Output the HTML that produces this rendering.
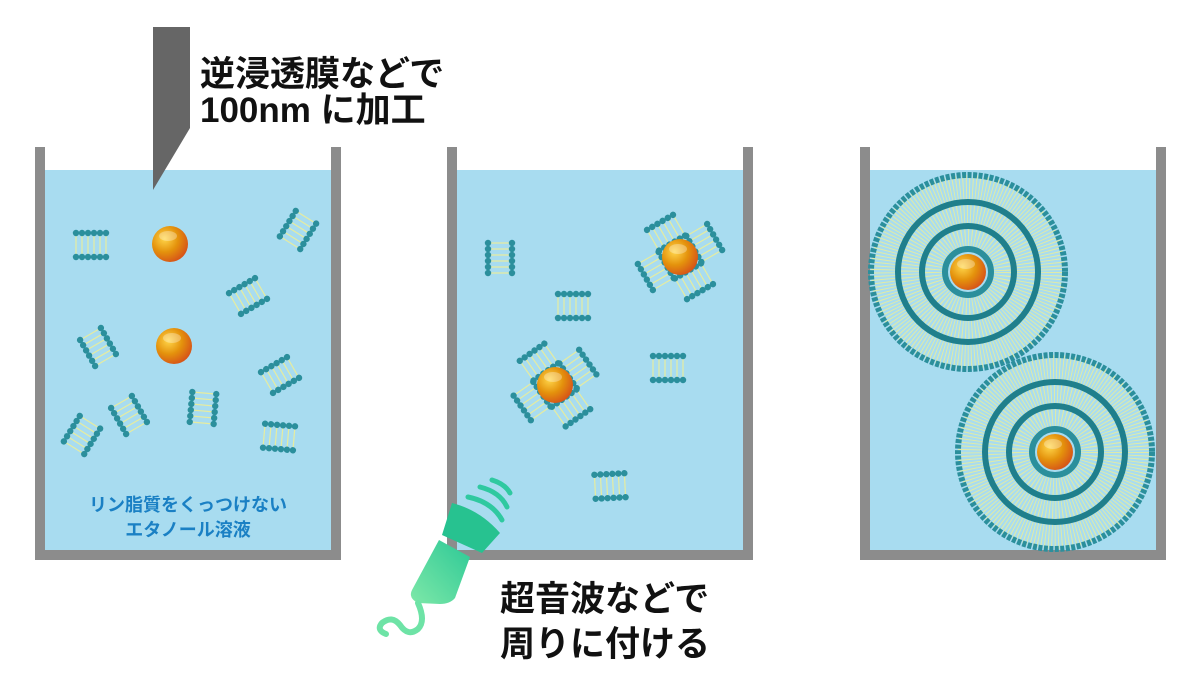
<!DOCTYPE html>
<html><head><meta charset="utf-8"><style>
html,body{margin:0;padding:0;background:#fff;width:1200px;height:675px;overflow:hidden}
svg text{font-family:"Liberation Sans","Noto Sans CJK JP",sans-serif;font-weight:bold}
</style></head><body>
<svg width="1200" height="675" viewBox="0 0 1200 675" xmlns="http://www.w3.org/2000/svg">
<defs>
<radialGradient id="sph" cx="0.35" cy="0.35" r="0.75">
<stop offset="0" stop-color="#ffd64a"/><stop offset="0.5" stop-color="#e4920c"/><stop offset="1" stop-color="#d44a1a"/>
</radialGradient>
<linearGradient id="gr" x1="0" y1="1" x2="1" y2="0">
<stop offset="0" stop-color="#7ee8a8"/><stop offset="1" stop-color="#2cc896"/>
</linearGradient>
<g id="lad">
<g stroke="#e6eca0" stroke-width="1.2">
<line x1="-15" y1="-12" x2="-15" y2="12"/><line x1="-9" y1="-12" x2="-9" y2="12"/><line x1="-3" y1="-12" x2="-3" y2="12"/><line x1="3" y1="-12" x2="3" y2="12"/><line x1="9" y1="-12" x2="9" y2="12"/><line x1="15" y1="-12" x2="15" y2="12"/>
</g>
<g fill="#2b8f9c">
<circle cx="-15" cy="-12" r="3.2"/><circle cx="-9" cy="-12" r="3.2"/><circle cx="-3" cy="-12" r="3.2"/><circle cx="3" cy="-12" r="3.2"/><circle cx="9" cy="-12" r="3.2"/><circle cx="15" cy="-12" r="3.2"/>
<circle cx="-15" cy="12" r="3.2"/><circle cx="-9" cy="12" r="3.2"/><circle cx="-3" cy="12" r="3.2"/><circle cx="3" cy="12" r="3.2"/><circle cx="9" cy="12" r="3.2"/><circle cx="15" cy="12" r="3.2"/>
</g>
</g>
<g id="ball"><circle r="18" fill="url(#sph)"/><ellipse cx="-2" cy="-8" rx="9" ry="5" fill="#fff" opacity="0.3"/></g>
<g id="cl">
<use href="#lad" transform="rotate(-100) translate(0,-28)"/>
<use href="#lad" transform="rotate(-10) translate(0,-28)"/>
<use href="#lad" transform="rotate(80) translate(0,-28)"/>
<use href="#lad" transform="rotate(170) translate(0,-28)"/>
</g>
<g id="lipo">
<circle r="84" fill="none" stroke="#e6eca0" stroke-width="26" stroke-dasharray="1 2.2" opacity="0.9"/>
<circle r="58" fill="none" stroke="#e6eca0" stroke-width="22" stroke-dasharray="1 2.2" opacity="0.9"/>
<circle r="34" fill="none" stroke="#e6eca0" stroke-width="22" stroke-dasharray="1 2.2" opacity="0.9"/>
<circle r="97" fill="none" stroke="#2b8f9c" stroke-width="6" stroke-dasharray="4 1.5"/>
<circle r="70" fill="none" stroke="#1f7f8c" stroke-width="6"/>
<circle r="46" fill="none" stroke="#1f7f8c" stroke-width="6"/>
<circle r="23" fill="none" stroke="#2b8f9c" stroke-width="6"/>
<use href="#ball"/>
</g>
</defs>
<g>
<rect x="45" y="170" width="286" height="380" fill="#a8dcf0"/>
<path d="M40 147V555H336V147" fill="none" stroke="#8c8c8c" stroke-width="10"/>
<rect x="457" y="170" width="286" height="380" fill="#a8dcf0"/>
<path d="M452 147V555H748V147" fill="none" stroke="#8c8c8c" stroke-width="10"/>
<rect x="870" y="170" width="286" height="380" fill="#a8dcf0"/>
<path d="M865 147V555H1161V147" fill="none" stroke="#8c8c8c" stroke-width="10"/>
</g>
<polygon points="153,27 190,27 190,128 153,190" fill="#666"/>
<text x="200" y="86" font-size="35" fill="#111">逆浸透膜などで</text>
<text x="200" y="122" font-size="35" fill="#111">100nm に加工</text>
<use href="#lad" transform="translate(91,245)"/>
<use href="#lad" transform="translate(298,230) rotate(-58)"/>
<use href="#lad" transform="translate(248,296) rotate(-30)"/>
<use href="#lad" transform="translate(98,347) rotate(60)"/>
<use href="#lad" transform="translate(280,375) rotate(-30)"/>
<use href="#lad" transform="translate(82,435) rotate(-58)"/>
<use href="#lad" transform="translate(129,415) rotate(60)"/>
<use href="#lad" transform="translate(203,408) rotate(95)"/>
<use href="#lad" transform="translate(279,437) rotate(5)"/>
<use href="#ball" transform="translate(170,244)"/>
<use href="#ball" transform="translate(174,346)"/>
<text x="188" y="511" font-size="18" fill="#1a80c4" text-anchor="middle">リン脂質をくっつけない</text>
<text x="188" y="536" font-size="18" fill="#1a80c4" text-anchor="middle">エタノール溶液</text>
<use href="#lad" transform="translate(500,258) rotate(90)"/>
<use href="#lad" transform="translate(573,306)"/>
<use href="#lad" transform="translate(668,368)"/>
<use href="#lad" transform="translate(610,486) rotate(-3)"/>
<use href="#cl" transform="translate(680,257) rotate(-20)"/>
<use href="#ball" transform="translate(680,257)"/>
<use href="#cl" transform="translate(555,385) rotate(-25)"/>
<use href="#ball" transform="translate(555,385)"/>
<use href="#lipo" transform="translate(968,272)"/>
<use href="#lipo" transform="translate(1055,452)"/>
<g>
<path d="M468 497 Q492 502 502 520" fill="none" stroke="#2fc9a0" stroke-width="5" stroke-linecap="round"/>
<path d="M480 487 Q500 492 507 507" fill="none" stroke="#2fc9a0" stroke-width="5" stroke-linecap="round"/>
<path d="M492 480 Q505 484 510 493" fill="none" stroke="#2fc9a0" stroke-width="5" stroke-linecap="round"/>
<path d="M452 503 Q480 510 500 533 L482 553 L442 535 Z" fill="#27c290"/>
<path d="M439 540 L470 557 L455 598 Q450 604 440 604 L418 603 Q408 598 412 590 Z" fill="url(#gr)"/>
<path d="M418 603 q8 18 0 26 q-10 8 -18 -4 q-8 -10 -18 -2 q-6 7 4 11" fill="none" stroke="#6ee3a6" stroke-width="6" stroke-linecap="round"/>
</g>
<text x="500" y="611" font-size="35" fill="#111">超音波などで</text>
<text x="500" y="656" font-size="35" fill="#111">周りに付ける</text>
</svg>
</body></html>
